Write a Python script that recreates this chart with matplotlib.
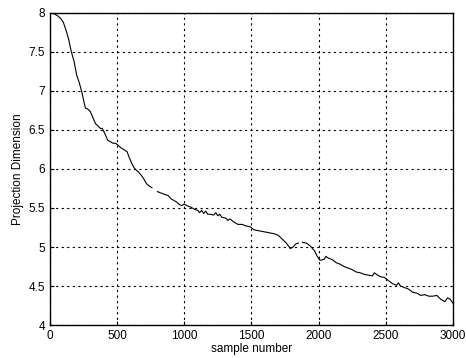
import numpy as np
import matplotlib
matplotlib.use("Agg")
import matplotlib.pyplot as plt

plt.rcParams["font.family"] = ["Liberation Sans", "DejaVu Sans"]

# sample number / projection dimension (nan = gap in trace)
samples = [20, 40, 60, 80, 100, 120, 140, 160, 180, 200, 220, 240, 255, 265, 280,
           300, 320, 340, 360, 375, 390, 410, 430, 450, 470, 490, 510, 530, 550,
           575, 590, 610, 625, 640, 660, 680, 700, 720, 740, 760, 780, 800, 830,
           860, 880, 900, 920, 940, 960, 980, 1000, 1020, 1050, 1080, 1100, 1115,
           1130, 1145, 1160, 1175, 1190, 1220, 1235, 1250, 1265, 1280, 1310, 1325,
           1340, 1370, 1400, 1430, 1460, 1490, 1520, 1550, 1580, 1610, 1640, 1670,
           1700, 1730, 1760, 1790, 1810, 1830, 1850, 1865, 1880, 1910, 1940, 1970,
           1990, 2010, 2040, 2055, 2070, 2100, 2130, 2160, 2190, 2220, 2250, 2280,
           2310, 2340, 2370, 2400, 2415, 2430, 2460, 2490, 2520, 2550, 2580, 2595,
           2610, 2640, 2670, 2700, 2730, 2760, 2790, 2820, 2850, 2880, 2910, 2940,
           2960, 2980, 3000]
proj_dim = [8.00, 7.98, 7.96, 7.93, 7.88, 7.78, 7.66, 7.50, 7.38, 7.20, 7.10, 6.97,
            6.85, 6.78, 6.77, 6.74, 6.66, 6.58, 6.55, 6.52, 6.52, 6.45, 6.37, 6.35,
            6.33, 6.33, 6.30, 6.27, 6.25, 6.22, 6.15, 6.07, 6.02, 5.99, 5.96, 5.92,
            5.87, 5.81, 5.78, 5.76, np.nan, 5.71, 5.69, 5.67, 5.66, 5.62, 5.60, 5.58,
            5.55, 5.53, 5.55, 5.53, 5.51, 5.48, 5.47, 5.44, 5.47, 5.43, 5.46, 5.42,
            5.42, 5.41, 5.44, 5.40, 5.42, 5.38, 5.37, 5.34, 5.36, 5.32, 5.29, 5.29,
            5.27, 5.26, 5.22, 5.21, 5.20, 5.19, 5.18, 5.17, 5.15, 5.10, 5.05, 4.98,
            5.00, 5.04, 5.05, np.nan, 5.06, 5.05, 5.01, 4.95, 4.88, 4.83, 4.84, 4.88,
            4.86, 4.84, 4.80, 4.78, 4.75, 4.73, 4.71, 4.68, 4.67, 4.65, 4.64, 4.63,
            4.67, 4.65, 4.62, 4.61, 4.57, 4.53, 4.51, 4.54, 4.50, 4.48, 4.46, 4.42,
            4.41, 4.38, 4.39, 4.37, 4.37, 4.38, 4.33, 4.30, 4.35, 4.33, 4.28]

fig = plt.figure(figsize=(4.66, 3.58), dpi=100)
ax = fig.add_axes([0.107, 0.092, 0.865, 0.872])
ax.plot(samples, proj_dim, color="black", lw=0.8)

ax.set_xlim(0, 3000)
ax.set_ylim(4, 8)
ax.set_xticks(np.arange(0, 3001, 500))
ax.set_yticks(np.arange(4, 8.01, 0.5))
ax.set_yticklabels(["4", "4.5", "5", "5.5", "6", "6.5", "7", "7.5", "8"])
ax.tick_params(direction="in", labelsize=8.5, length=3, width=0.8)
ax.grid(True, color="black", linestyle=(0, (2, 3)), linewidth=0.8)
for s in ax.spines.values():
    s.set_linewidth(1.0)

ax.set_xlabel("sample number", fontsize=8.5, labelpad=1)
ax.set_ylabel("Projection Dimension", fontsize=8.5, labelpad=3)

fig.savefig("out.png", dpi=100)
